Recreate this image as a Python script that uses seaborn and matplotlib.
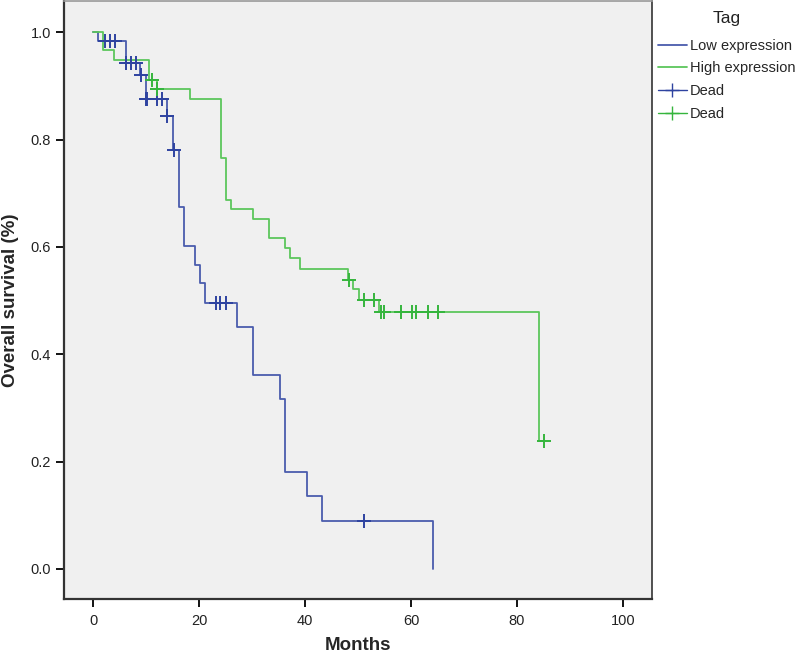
import matplotlib
matplotlib.use('Agg')
import matplotlib.pyplot as plt
from matplotlib.lines import Line2D
import numpy as np
import seaborn as sns

# Kaplan-Meier steps (months, survival)
low_times = [0, 1.0, 6.2, 8.9, 9.9, 14.0, 15.1, 16.3, 17.1, 19.3, 20.2, 21.2, 27.2, 30.2, 35.2, 36.2, 40.3, 43.2, 64.2]
low_surv = [1.0, 0.984, 0.943, 0.921, 0.875, 0.844, 0.780, 0.674, 0.602, 0.567, 0.532, 0.496, 0.451, 0.361, 0.316, 0.181, 0.135, 0.090, 0.0]
low_censor = [2.3, 3.2, 4.2, 6.2, 7.1, 8.1, 9.0, 10.0, 10.2, 12.1, 13.0, 14.0, 15.2, 23.1, 24.0, 25.1, 51.1]

high_times = [0, 1.9, 4.0, 10.5, 12.1, 18.2, 24.2, 25.1, 26.1, 30.2, 33.2, 36.2, 37.1, 39.1, 48.1, 49.1, 50.2, 53.9, 84.2, 85.1]
high_surv = [1.0, 0.966, 0.949, 0.911, 0.895, 0.876, 0.765, 0.688, 0.670, 0.652, 0.616, 0.598, 0.579, 0.559, 0.539, 0.521, 0.501, 0.478, 0.239, 0.239]
high_censor = [11.1, 12.1, 48.3, 51.1, 53.0, 54.3, 54.9, 58.2, 60.2, 61.0, 63.2, 65.1, 85.1]

x_ticks = [0, 20, 40, 60, 80, 100]
y_ticks = [0.0, 0.2, 0.4, 0.6, 0.8, 1.0]

blue = '#4a5cad'
green = '#5cc65c'
blue_mark = '#2e43a0'
green_mark = '#35b53d'


def step_value(times, surv, t):
    idx = np.searchsorted(times, t, side='right') - 1
    return np.asarray(surv)[idx]


sns.set_style('white')
plt.rcParams['font.family'] = ['Liberation Sans', 'DejaVu Sans']

fig = plt.figure(figsize=(8, 6.6), dpi=100)
ax = fig.add_axes([0.08, 0.0924, 0.735, 0.906])
ax.set_facecolor('#f0f0f0')

sns.lineplot(x=low_times, y=low_surv, drawstyle='steps-post', estimator=None,
             sort=False, color=blue, linewidth=1.3, ax=ax)
sns.lineplot(x=high_times, y=high_surv, drawstyle='steps-post', estimator=None,
             sort=False, color=green, linewidth=1.3, ax=ax)

ax.plot(low_censor, step_value(low_times, low_surv, low_censor), linestyle='none',
        marker='+', markersize=10, markeredgewidth=1.4, color=blue_mark)
ax.plot(high_censor, step_value(high_times, high_surv, high_censor), linestyle='none',
        marker='+', markersize=10, markeredgewidth=1.4, color=green_mark)

ax.set_xlim(-5.5, 105.5)
ax.set_ylim(-0.056, 1.058)
ax.set_xticks(x_ticks)
ax.set_yticks(y_ticks)
ax.set_yticklabels([f'{v:.1f}' for v in y_ticks])
ax.tick_params(axis='both', direction='out', length=6, width=1.3, color='black',
               labelsize=10.5, labelcolor='#222222', left=True, bottom=True)
ax.tick_params(axis='x', pad=5)
for side in ax.spines.values():
    side.set_color('#333333')
    side.set_linewidth(1.2)
ax.spines['left'].set_linewidth(1.6)
ax.spines['bottom'].set_linewidth(1.6)
ax.spines['top'].set_color('#999999')

ax.set_xlabel('Months', fontsize=13.5, fontweight='bold', labelpad=6)
ax.set_ylabel('Overall survival (%)', fontsize=13.5, fontweight='bold', labelpad=8)

handles = [Line2D([], [], color=blue, linewidth=1.3),
           Line2D([], [], color=green, linewidth=1.3),
           Line2D([], [], color=blue_mark, linewidth=1.0, marker='+', markersize=10),
           Line2D([], [], color=green_mark, linewidth=1.0, marker='+', markersize=10)]
labels = ['Low expression', 'High expression', 'Dead', 'Dead']
leg = fig.legend(handles, labels, title='Tag', loc='upper left',
                 bbox_to_anchor=(0.815, 0.992), frameon=False, fontsize=10.5,
                 title_fontsize=12.5, handlelength=2.0, handletextpad=0.2,
                 labelspacing=0.6, borderaxespad=0)
leg.get_title().set_color('#222222')
leg._legend_box.sep = 9

fig.savefig('out.png', dpi=100, facecolor='white')
